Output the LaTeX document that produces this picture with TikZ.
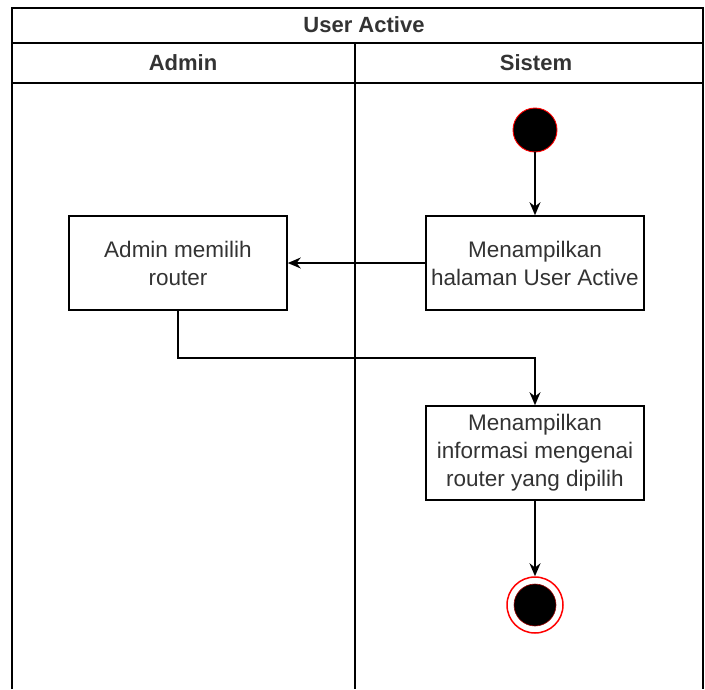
\documentclass[tikz,border=0pt]{standalone}
\usepackage{fontspec}
\setmainfont{Liberation Sans}
\usetikzlibrary{arrows.meta}
\definecolor{txt}{HTML}{333333}

\tikzset{
  act/.style={draw,line width=1.6pt,minimum width=218pt,minimum height=94pt,
    align=center,text=txt,font=\fontsize{22.5}{28}\selectfont},
  head/.style={text=txt,font=\fontsize{22}{26}\selectfont\bfseries},
  flow/.style={line width=1.4pt,-{Stealth[length=13pt,width=11pt]}},
  lane/.style={line width=1.8pt}
}

\begin{document}
\begin{tikzpicture}[x=1pt,y=-1pt]
\useasboundingbox (0,0) rectangle (705,689);
% swimlanes
\draw [lane] (12,689) -- (12,8) -- (703,8) -- (703,689);
\draw [lane] (12,43) -- (703,43);
\draw [lane] (12,83) -- (703,83);
\draw [lane] (355,43) -- (355,689);
\node [head] (title) at (364,25) {User Active};
\node [head] (admin) at (183,63) {Admin};
\node [head] (sistem) at (536,63) {Sistem};
% activities
\node [circle,fill=black,draw=red,line width=0.9pt,minimum size=44pt,inner sep=0pt] (start) at (535,130) {};
\node [act] (tampil) at (535,263) {Menampilkan\\halaman User Active};
\node [act] (pilih) at (178,263) {Admin memilih\\router};
\node [act] (info) at (535,453) {Menampilkan\\informasi mengenai\\router yang dipilih};
\node [circle,fill=white,draw=red,line width=1.5pt,minimum size=56pt,inner sep=0pt] (stop) at (535,605) {};
\node [circle,fill=black,draw=red!60!black,line width=0.6pt,minimum size=42pt,inner sep=0pt] (stopin) at (535,605) {};
% flows
\draw [flow] (start) -- (tampil);
\draw [flow] (tampil) -- (pilih);
\draw [flow] (pilih.south) -- ++(0,47) -| (info.north);
\draw [flow] (info) -- (stop);
\end{tikzpicture}
\end{document}
